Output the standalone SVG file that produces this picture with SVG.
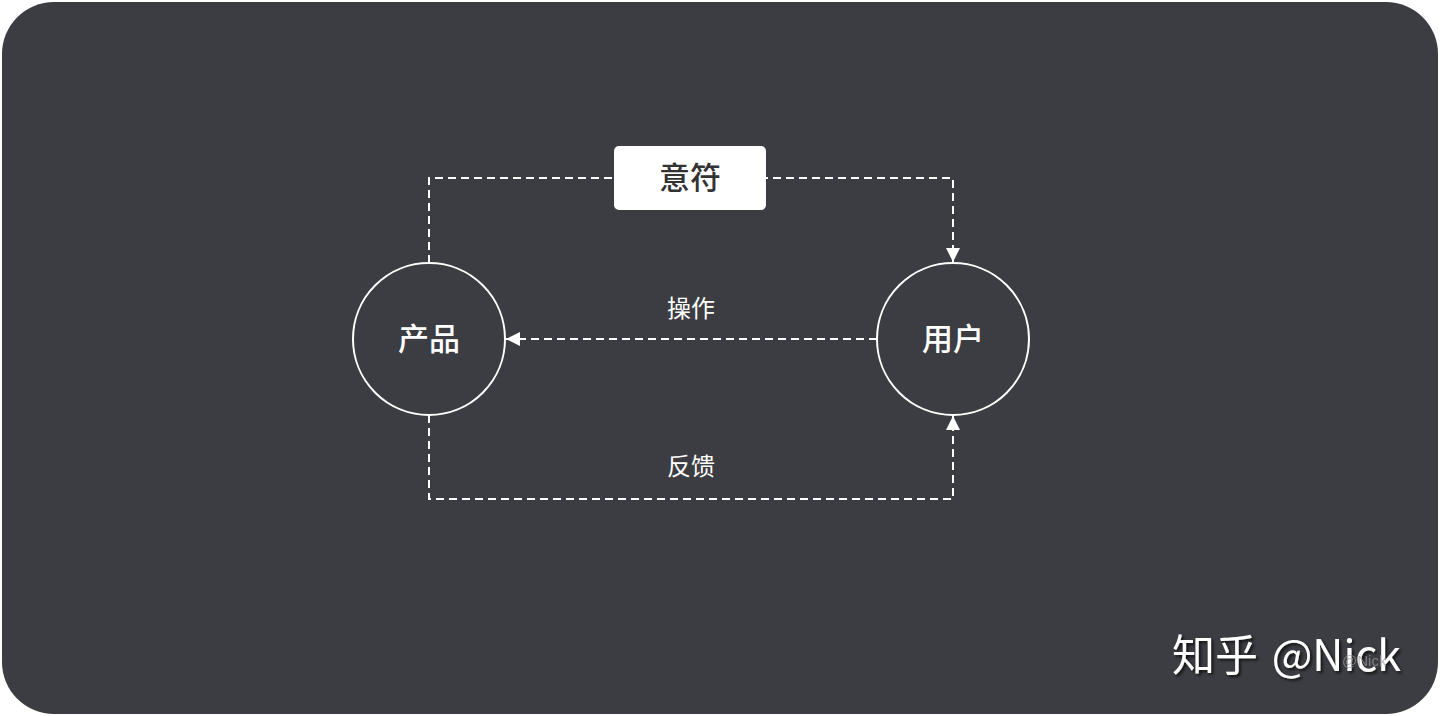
<svg xmlns="http://www.w3.org/2000/svg" width="1440" height="716" viewBox="0 0 1440 716">
<style>
.cjk{font-family:"Noto Sans CJK SC","Noto Sans",sans-serif}
.conn{fill:none;stroke:#ffffff;stroke-width:2;stroke-dasharray:8 5}
.node{fill:none;stroke:#ffffff;stroke-width:2}
.nlabel{fill:#ffffff;font-size:31px;font-weight:500;text-anchor:middle;dominant-baseline:central}
.elabel{fill:#ffffff;font-size:24px;text-anchor:middle;dominant-baseline:central}
</style>
<defs>
<marker id="arr" viewBox="0 0 14 14" refX="14" refY="7" markerWidth="14" markerHeight="14" markerUnits="userSpaceOnUse" orient="auto">
<path d="M0,0 L14,7 L0,14 Z" fill="#ffffff"/>
</marker>
<filter id="sh" x="-10%" y="-20%" width="130%" height="150%">
<feDropShadow dx="2" dy="2" stdDeviation="1.5" flood-color="#000000" flood-opacity="0.7"/>
</filter>
</defs>
<rect x="0" y="0" width="1440" height="716" fill="#ffffff"/>
<rect x="2" y="2" width="1436" height="712" rx="52" fill="#3c3d42"/>
<g id="connectors">
<path class="conn" d="M429,263 V178 H953 V262" marker-end="url(#arr)"/>
<path class="conn" d="M877,339 H506" marker-end="url(#arr)"/>
<path class="conn" d="M429,415 V499 H953 V416" marker-end="url(#arr)"/>
<text class="cjk elabel" x="691" y="306">操作</text>
<text class="cjk elabel" x="691" y="464">反馈</text>
</g>
<g id="sign">
<rect x="614" y="146" width="152" height="64" rx="5" fill="#ffffff"/>
<text class="cjk" x="690" y="175" fill="#333333" font-size="31" font-weight="500" text-anchor="middle" dominant-baseline="central">意符</text>
</g>
<g id="product">
<circle class="node" cx="429" cy="339" r="76"/>
<text class="cjk nlabel" x="429" y="336">产品</text>
</g>
<g id="user">
<circle class="node" cx="953" cy="339" r="76"/>
<text class="cjk nlabel" x="953" y="336">用户</text>
</g>
<g id="watermark">
<text class="cjk" x="1172" y="671" fill="#ffffff" font-size="43" word-spacing="4" filter="url(#sh)">知乎 @Nick</text>
<text x="1342" y="666" fill="#9a9a9a" font-size="15" font-family="Liberation Sans,sans-serif" opacity="0.7">@Nick</text>
</g>
</svg>
